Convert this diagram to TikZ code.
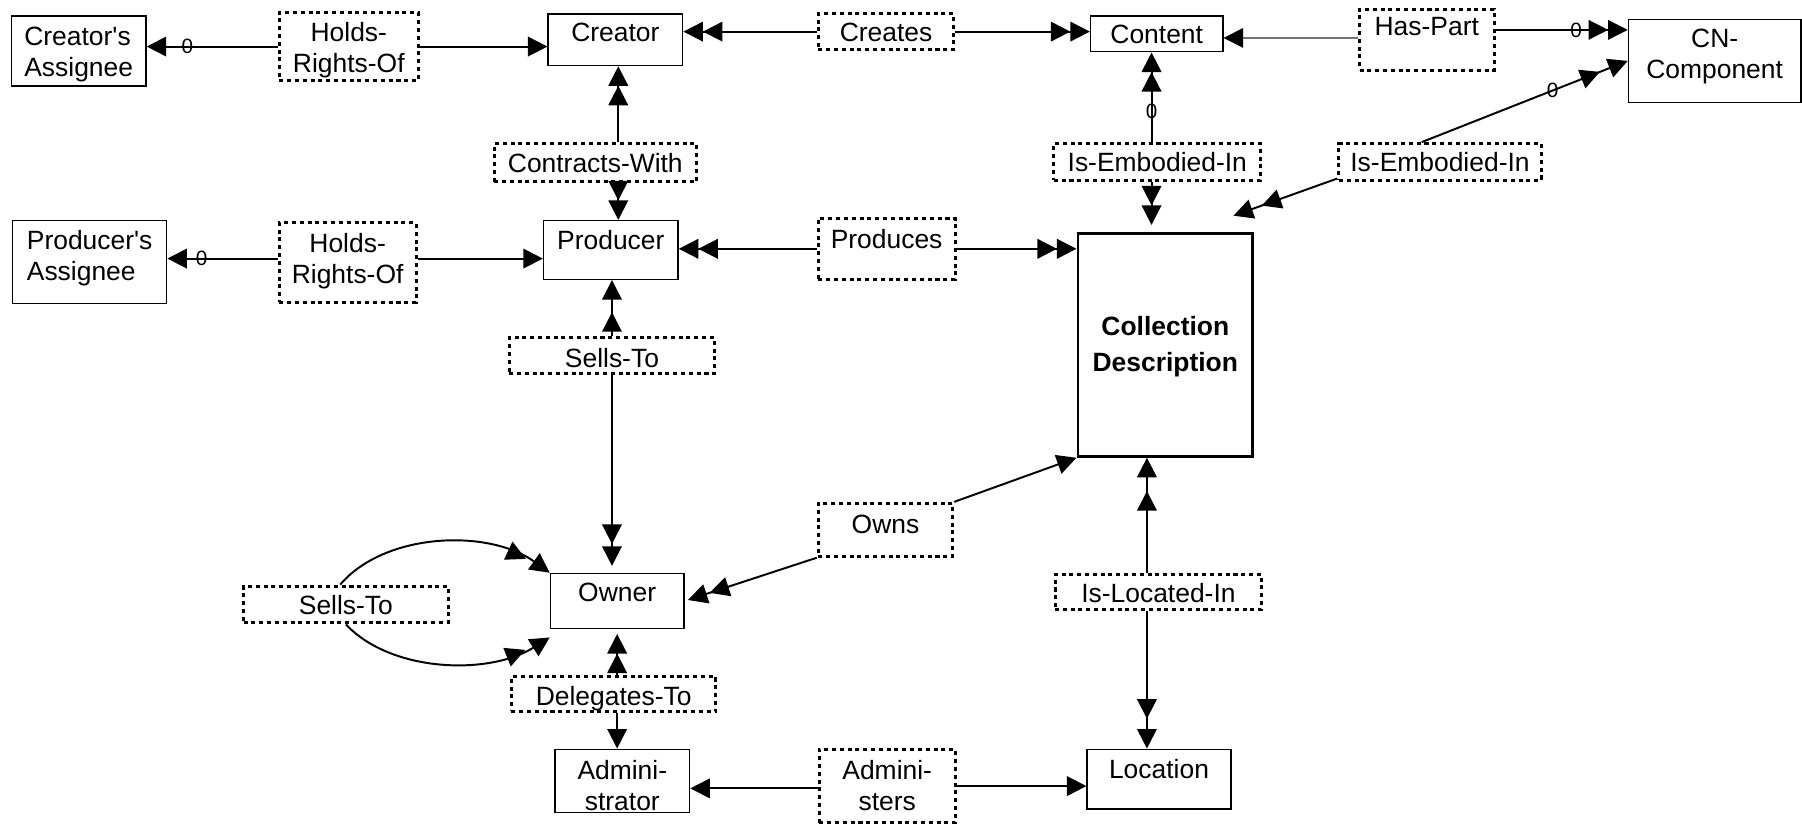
\documentclass[tikz,border=0pt]{standalone}
\usepackage{fontspec}
\setmainfont{Liberation Sans}
\usetikzlibrary{arrows.meta,decorations.markings}
\newcommand{\ml}[3]{\raisebox{#1}[\height][\depth]{\begin{tabular}{@{}#2@{}}#3\end{tabular}}}
\tikzset{
  ent/.style={draw, line width=1.3pt, inner sep=0pt},
  rel/.style={draw, line width=2.6pt, dash pattern=on 3.5pt off 3.3pt, inner sep=0pt},
  one/.style={text height=17pt, text depth=0pt},
  con/.style={line width=1.7pt, -{Triangle[length=17pt,width=17pt]}},
  dbl/.style={line width=1.7pt, -{Triangle[length=17pt,width=17pt]Triangle[length=17pt,width=17pt]}},
  sep/.style={con, postaction={decorate, decoration={markings,
      mark=at position -#1 with {\arrow{Triangle[length=17pt,width=17pt]}}}}},
  zero/.style={font=\fontsize{18}{18}\selectfont, inner sep=0pt},
}
\begin{document}
\begin{tikzpicture}[x=1pt, y=-1pt, font=\fontsize{23}{27}\selectfont]
\useasboundingbox (0,0) rectangle (1568,718);
% entities and relations
\node[ent, minimum width=117pt, minimum height=61pt] (cas) at (68.5,44.5) {\ml{-3pt}{l}{Creator\textquotesingle s\\Assignee}\hspace{10pt}};
\node[rel, minimum width=121pt, minimum height=59pt] (hro1) at (303.5,40.5) {\ml{-4pt}{c}{Holds-\\Rights-Of}};
\node[ent, one, text depth=13pt, minimum width=117pt, minimum height=45pt] (cre) at (535.5,34.5) {Creator};
\node[rel, one, minimum width=118pt, minimum height=31pt] (crs) at (771,27.5) {Creates};
\node[ent, one, minimum width=115pt, minimum height=31pt] (con) at (1006.5,29.5) {Content};
\node[rel, one, text depth=25pt, minimum width=117pt, minimum height=53pt] (hp) at (1241.5,34.5) {Has-Part};
\node[ent, minimum width=150pt, minimum height=72pt] (cnc) at (1492,53) {\ml{3.5pt}{c}{CN-\\Component}};
\node[rel, one, minimum width=176pt, minimum height=33pt] (cw) at (518,141.5) {Contracts-With};
\node[rel, one, minimum width=180pt, minimum height=32pt] (iei1) at (1007,141) {Is-Embodied-In};
\node[rel, one, minimum width=176pt, minimum height=32pt] (iei2) at (1253,141) {Is-Embodied-In};
\node[ent, minimum width=134pt, minimum height=72pt] (pas) at (78,228) {\ml{2.5pt}{l}{Producer\textquotesingle s\\Assignee}\hspace{15pt}};
\node[rel, minimum width=119pt, minimum height=69pt] (hro2) at (302.5,228.5) {\ml{1pt}{c}{Holds-\\Rights-Of}};
\node[ent, one, text depth=17pt, minimum width=117pt, minimum height=51pt] (pro) at (531.5,217.5) {Producer};
\node[rel, one, text depth=17pt, minimum width=119pt, minimum height=53pt] (prd) at (771.5,216.5) {Produces};
\node[ent, line width=2.6pt, minimum width=152pt, minimum height=194pt] (cd) at (1014,300) {\ml{-2pt}{c}{\bfseries Collection\\[4pt]\bfseries Description}};
\node[rel, one, text height=20pt, minimum width=179pt, minimum height=31pt] (st1) at (532.5,309.5) {Sells-To};
\node[rel, one, text depth=10pt, minimum width=117pt, minimum height=46pt] (own) at (770.5,461) {Owns};
\node[ent, one, text depth=16pt, minimum width=116pt, minimum height=48pt] (ownr) at (537,523) {Owner};
\node[rel, one, minimum width=178pt, minimum height=32pt] (st2) at (301,526) {Sells-To};
\node[rel, one, text height=19pt, minimum width=180pt, minimum height=30pt] (ili) at (1008,515) {Is-Located-In};
\node[rel, one, text height=19pt, minimum width=178pt, minimum height=30pt] (dt) at (534,604) {Delegates-To};
\node[ent, minimum width=117pt, minimum height=55pt] (adm) at (541.5,679.5) {\ml{-6.5pt}{c}{Admini-\\strator}};
\node[rel, minimum width=118pt, minimum height=64pt] (adms) at (772,684) {\ml{-2.5pt}{c}{Admini-\\sters}};
\node[ent, one, text depth=18pt, minimum width=125pt, minimum height=52pt] (loc) at (1008.5,678) {Location};
% connectors
\draw[con] (hro1.west) -- node[zero, pos=.69] (z1) {0} (hro1.west -| cas.east);
\draw[con] (hro1.east) -- (hro1.east -| cre.west);
\draw[dbl] (crs.west) -- (crs.west -| cre.east);
\draw[dbl] (crs.east) -- (crs.east -| con.west);
\draw[line width=1pt, draw=black!55, -{Triangle[length=17pt,width=17pt,color=black]}] ([yshift=1.5pt]hp.west) -- ([yshift=1.5pt]hp.west -| con.east);
\draw[dbl, line width=1.2pt] ([yshift=8.5pt]hp.east) -- node[zero, pos=.61] (z2) {0} ([yshift=8.5pt]hp.east -| cnc.west);
\draw[dbl] ([xshift=2.5pt]cre.south |- cw.north) -- ([xshift=2.5pt]cre.south);
\draw[dbl] ([xshift=2.5pt]cre.south |- cw.south) -- ([xshift=2.5pt]cre.south |- pro.north);
\draw[dbl] ([xshift=-4.5pt]con.south |- iei1.north) -- node[zero, pos=.34] (z3) {0} ([xshift=-4.5pt]con.south);
\draw[dbl, shorten >=6pt] ([xshift=-4.5pt]con.south |- iei1.south) -- ([xshift=-4.5pt]con.south |- cd.north);
\draw[sep=26pt] ([xshift=-16pt]iei2.north) -- node[zero, pos=.635] (z4) {0} (cnc.west);
\draw[sep=26pt] ([yshift=3pt]iei2.south west) -- ([shift={(-18pt,14pt)}]cd.north east);
\draw[con] ([yshift=3.5pt]hro2.west) -- node[zero, pos=.69] (z5) {0} ([yshift=3.5pt]hro2.west -| pas.east);
\draw[con] ([yshift=3.5pt]hro2.east) -- ([yshift=3.5pt]hro2.east -| pro.west);
\draw[dbl] (prd.west) -- (prd.west -| pro.east);
\draw[dbl] (prd.east) -- (prd.east -| cd.west);
\draw[sep=28pt] (st1.north) -- (st1.north |- pro.south);
\draw[sep=25pt, shorten >=6pt] (st1.south) -- (st1.south |- ownr.north);
\draw[sep=23pt, shorten >=3pt] (own.south west) -- (ownr.east);
\draw[con] (own.north east) -- (cd.south west);
\draw[sep=24pt] ([xshift=-5pt]st2.north) .. controls (335,463) and (425,460) .. (ownr.north west);
\draw[sep=24pt] (st2.south) .. controls (340,585) and (425,588) .. ([yshift=-7pt]ownr.south west);
\draw[dbl, shorten >=4pt] (dt.north -| ownr.south) -- (ownr.south);
\draw[con] (dt.south -| ownr.south) -- (adm.north -| ownr.south);
\draw[sep=29pt] ([xshift=-10pt]ili.north) -- ([xshift=-10pt]ili.north |- cd.south);
\draw[sep=26pt] ([xshift=-10pt]ili.south) -- ([xshift=-10pt]ili.south |- loc.north);
\draw[con] ([yshift=-2pt]adms.west) -- ([yshift=-2pt]adms.west -| adm.east);
\draw[con] (adms.east) -- (adms.east -| loc.west);
\end{tikzpicture}
\end{document}
